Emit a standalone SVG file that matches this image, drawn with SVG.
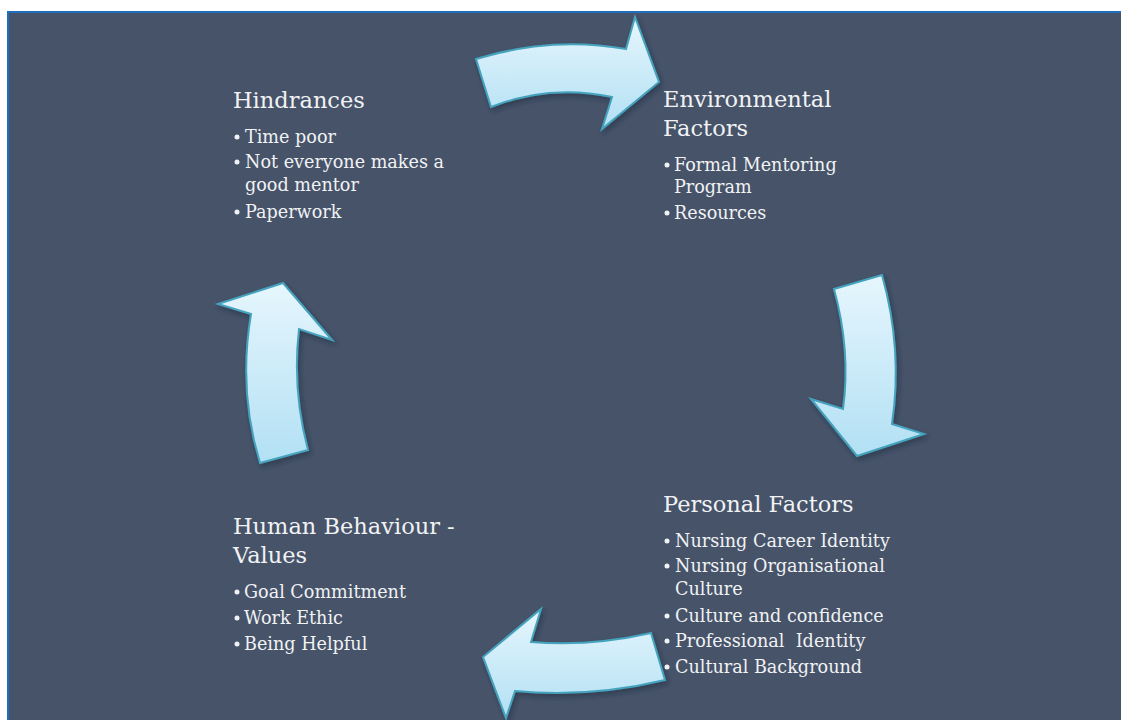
<svg xmlns="http://www.w3.org/2000/svg" width="1121" height="720" viewBox="0 0 1121 720">
  <style>
    .title { font-family: "DejaVu Serif", "Liberation Serif", serif; font-size: 22.5px; fill: #f1f2f4; }
    .item { font-family: "DejaVu Serif", "Liberation Serif", serif; font-size: 17.6px; fill: #f1f2f4; white-space: pre; }
    .dot { fill: #f1f2f4; }
    .arrow { fill: url(#arrowFill); stroke: #45a3be; stroke-width: 2; stroke-linejoin: miter; filter: url(#shadow); }
  </style>
  <defs>
    <linearGradient id="arrowFill" x1="0" y1="0" x2="0" y2="1">
      <stop offset="0" stop-color="#e6f6fd"/>
      <stop offset="1" stop-color="#b2e0f4"/>
    </linearGradient>
    <filter id="shadow" x="-20%" y="-20%" width="140%" height="140%">
      <feDropShadow dx="2" dy="3" stdDeviation="2.5" flood-color="#1c2433" flood-opacity="0.45"/>
    </filter>
  </defs>

  <!-- page and panel -->
  <rect x="0" y="0" width="1121" height="720" fill="#ffffff"/>
  <rect x="8" y="12" width="1130" height="730" fill="#465369" stroke="#1f6fc0" stroke-width="2"/>

  <!-- cycle arrows -->
  <g id="connectors">
    <path class="arrow" d="M476,59 Q551,36 626,49 L635,17 L659,82 L602,129 L612,97 Q549,84 491,107 Z"/>
    <path class="arrow" d="M834,289 L882,275 Q903,350 892,424 L924,434 L857,456 L811,399 L843,409 Q851,351 834,289 Z"/>
    <path class="arrow" d="M651,633 L665,680 Q590,698 515,691 L506,718 L483,657 L541,609 L531,642 Q589,647 651,633 Z"/>
    <path class="arrow" d="M218,304 L283,283 L332,340 L299,329 Q292,390 308,450 L260,463 Q238,391 251,314 Z"/>
  </g>

  <g id="hindrances">
    <text class="title" x="233" y="108">Hindrances</text>
    <circle class="dot" cx="237" cy="137" r="2.5"/>
    <text class="item" x="245" y="143">Time poor</text>
    <circle class="dot" cx="237" cy="162" r="2.5"/>
    <text class="item" x="245" y="168">Not everyone makes a</text>
    <text class="item" x="245" y="191">good mentor</text>
    <circle class="dot" cx="237" cy="212" r="2.5"/>
    <text class="item" x="245" y="218">Paperwork</text>
  </g>

  <g id="environmental-factors">
    <text class="title" x="663" y="107">Environmental</text>
    <text class="title" x="663" y="136">Factors</text>
    <circle class="dot" cx="667" cy="165" r="2.5"/>
    <text class="item" x="674" y="171">Formal Mentoring</text>
    <text class="item" x="674" y="193">Program</text>
    <circle class="dot" cx="667" cy="213" r="2.5"/>
    <text class="item" x="674" y="219">Resources</text>
  </g>

  <g id="personal-factors">
    <text class="title" x="663" y="512">Personal Factors</text>
    <circle class="dot" cx="667" cy="541" r="2.5"/>
    <text class="item" x="675" y="547">Nursing Career Identity</text>
    <circle class="dot" cx="667" cy="566" r="2.5"/>
    <text class="item" x="675" y="572">Nursing Organisational</text>
    <text class="item" x="675" y="595">Culture</text>
    <circle class="dot" cx="667" cy="616" r="2.5"/>
    <text class="item" x="675" y="622">Culture and confidence</text>
    <circle class="dot" cx="667" cy="641" r="2.5"/>
    <text class="item" x="675" y="647">Professional  Identity</text>
    <circle class="dot" cx="667" cy="667" r="2.5"/>
    <text class="item" x="675" y="673">Cultural Background</text>
  </g>

  <g id="human-behaviour">
    <text class="title" x="233" y="534">Human Behaviour -</text>
    <text class="title" x="233" y="563">Values</text>
    <circle class="dot" cx="237" cy="592" r="2.5"/>
    <text class="item" x="244" y="598">Goal Commitment</text>
    <circle class="dot" cx="237" cy="618" r="2.5"/>
    <text class="item" x="244" y="624">Work Ethic</text>
    <circle class="dot" cx="237" cy="644" r="2.5"/>
    <text class="item" x="244" y="650">Being Helpful</text>
  </g>
</svg>
